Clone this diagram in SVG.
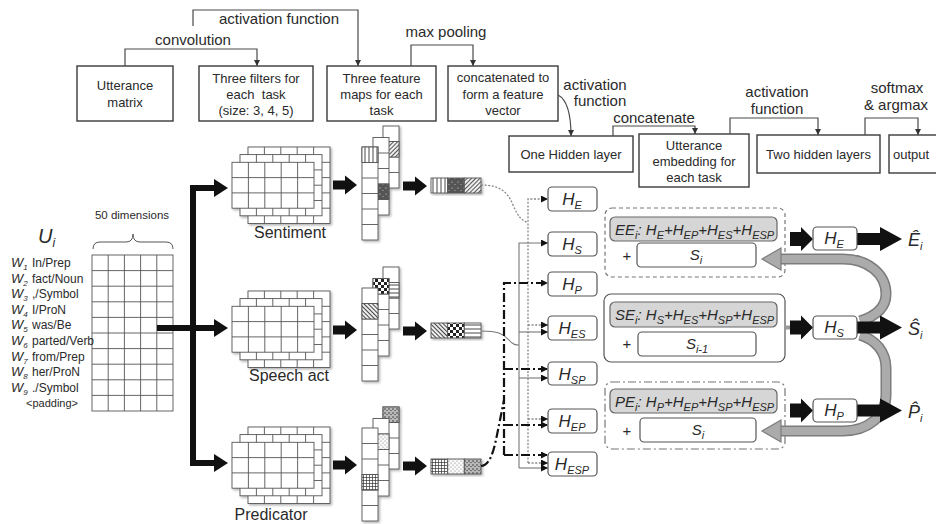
<svg xmlns="http://www.w3.org/2000/svg" width="936" height="524" viewBox="0 0 936 524">
<style>
text{font-family:"Liberation Sans",Arial,sans-serif;fill:#2a2a2a}
.bx{fill:#fff;stroke:#3a3a3a;stroke-width:1.4}
.t13{font-size:13px;text-anchor:middle}
.lab{font-size:15px;text-anchor:middle}
.con{fill:none;stroke:#4a4a4a;stroke-width:1.2}
.gl{fill:none;stroke:#555;stroke-width:0.9}
.cell{fill:#fff;stroke:#555;stroke-width:0.9}
.pc{stroke:#555;stroke-width:0.9}
.hb{fill:#fff;stroke:#555;stroke-width:1.2}
.it{font-style:italic}
.wl{font-size:12px}
.hl{font-size:17px;font-style:italic;text-anchor:middle}
.sb{font-size:11px}
.f15{font-size:15px}
.dot{fill:none;stroke:#888;stroke-width:1.3;stroke-dasharray:2 1.6}
.sol{fill:none;stroke:#777;stroke-width:1.1}
.dd{fill:none;stroke:#111;stroke-width:2.2;stroke-dasharray:9 3 2 3}
.inner{fill:#d6d6d6;stroke:#666;stroke-width:1.2}
.band{fill:none;stroke:#7c7c7c;stroke-width:11}
.band2{fill:none;stroke:#ababab;stroke-width:8}
.thick{fill:none;stroke:#111;stroke-width:6}
.blk{fill:#111}
.cap{font-size:16px;text-anchor:middle}
</style>
<defs>
<marker id="ma" viewBox="0 0 8 8" refX="8" refY="4" markerWidth="6" markerHeight="6" orient="auto" markerUnits="userSpaceOnUse"><path d="M0 0L8 4L0 8z" fill="#333"/></marker>
<marker id="mh" viewBox="0 0 8 8" refX="8" refY="4" markerWidth="7" markerHeight="7" orient="auto" markerUnits="userSpaceOnUse"><path d="M0 0L8 4L0 8z" fill="#111"/></marker>
<filter id="sh" x="-10%" y="-10%" width="130%" height="130%"><feDropShadow dx="1.5" dy="1.5" stdDeviation="1.2" flood-color="#000" flood-opacity="0.3"/></filter>
<pattern id="pV" width="4" height="4" patternUnits="userSpaceOnUse"><rect width="4" height="4" fill="#fff"/><path d="M1 0V4" stroke="#333" stroke-width="0.9"/></pattern>
<pattern id="pH" width="4" height="4" patternUnits="userSpaceOnUse"><rect width="4" height="4" fill="#fff"/><path d="M0 1H4" stroke="#333" stroke-width="0.9"/></pattern>
<pattern id="pD1" width="3" height="3" patternUnits="userSpaceOnUse" patternTransform="rotate(45)"><rect width="3" height="3" fill="#eee"/><path d="M0.5 0V3" stroke="#555" stroke-width="1"/></pattern>
<pattern id="pD2" width="3" height="3" patternUnits="userSpaceOnUse" patternTransform="rotate(-45)"><rect width="3" height="3" fill="#eee"/><path d="M0.5 0V3" stroke="#444" stroke-width="1"/></pattern>
<pattern id="pDark" width="6" height="6" patternUnits="userSpaceOnUse"><rect width="6" height="6" fill="#555"/><circle cx="2" cy="2" r="0.6" fill="#ddd"/><circle cx="5" cy="4.5" r="0.5" fill="#ccc"/></pattern>
<pattern id="pChk" width="6" height="6" patternUnits="userSpaceOnUse"><rect width="6" height="6" fill="#fff"/><rect width="3" height="3" fill="#222"/><rect x="3" y="3" width="3" height="3" fill="#222"/></pattern>
<pattern id="pGrid" width="3" height="3" patternUnits="userSpaceOnUse"><rect width="3" height="3" fill="#fff"/><path d="M0 0.5H3M0.5 0V3" stroke="#333" stroke-width="0.7"/></pattern>
<pattern id="pLt" width="4" height="4" patternUnits="userSpaceOnUse"><rect width="4" height="4" fill="#fafafa"/><circle cx="1" cy="1" r="0.5" fill="#666"/><circle cx="3" cy="3" r="0.5" fill="#666"/></pattern>
<pattern id="pSpk" width="4" height="4" patternUnits="userSpaceOnUse"><rect width="4" height="4" fill="#bbb"/><circle cx="1" cy="1" r="0.8" fill="#333"/><circle cx="3" cy="2.6" r="0.7" fill="#333"/></pattern>
<g id="f3"><rect width="82" height="45.9" class="cell"/><path class="gl" d="M16.4 0V45.9M32.8 0V45.9M49.2 0V45.9M65.6 0V45.9M0 15.3H82M0 30.6H82"/></g>
<g id="f4"><rect width="82" height="61.2" class="cell"/><path class="gl" d="M16.4 0V61.2M32.8 0V61.2M49.2 0V61.2M65.6 0V61.2M0 15.3H82M0 30.6H82M0 45.9H82"/></g>
<g id="f5"><rect width="82" height="76.5" class="cell"/><path class="gl" d="M16.4 0V76.5M32.8 0V76.5M49.2 0V76.5M65.6 0V76.5M0 15.3H82M0 30.6H82M0 45.9H82M0 61.2H82"/></g>
<g id="c4"><rect width="16" height="62" class="cell"/><path class="gl" d="M0 15.5H16M0 31H16M0 46.5H16"/></g>
<g id="c5"><rect width="16" height="77.5" class="cell"/><path class="gl" d="M0 15.5H16M0 31H16M0 46.5H16M0 62H16"/></g>
<g id="c6"><rect width="16" height="93" class="cell"/><path class="gl" d="M0 15.5H16M0 31H16M0 46.5H16M0 62H16M0 77.5H16"/></g>
<path id="ba" d="M0 -4.5H12V-9.5L24 0L12 9.5V4.5H0Z"/>
<path id="bb" d="M0 -7H11V-12L23 0L11 12V7H0Z"/>
<path id="bo" d="M0 -6H23V-12L45 0L23 12V6H0Z"/>
</defs>
<rect width="936" height="524" fill="#fff"/>

<!-- top pipeline boxes -->
<g id="box-utterance-matrix"><rect class="bx" x="77" y="66" width="96" height="55"/><text class="t13" x="125" y="90">Utterance</text><text class="t13" x="125" y="107">matrix</text></g>
<g id="box-three-filters"><rect class="bx" x="199" y="66" width="114" height="55"/><text class="t13" x="256" y="83">Three filters for</text><text class="t13" x="256" y="99" xml:space="preserve">each  task</text><text class="t13" x="256" y="115">(size: 3, 4, 5)</text></g>
<g id="box-feature-maps"><rect class="bx" x="327" y="66" width="109" height="55"/><text class="t13" x="381.5" y="83">Three feature</text><text class="t13" x="381.5" y="99">maps for each</text><text class="t13" x="381.5" y="115">task</text></g>
<g id="box-concat"><rect class="bx" x="448" y="66" width="110" height="55"/><text class="t13" x="503" y="82">concatenated to</text><text class="t13" x="503" y="99">form a feature</text><text class="t13" x="503" y="115">vector</text></g>
<g id="box-one-hidden"><rect class="bx" x="509" y="136" width="124" height="36"/><text class="t13" x="571" y="159">One Hidden layer</text></g>
<g id="box-utt-embedding"><rect class="bx" x="639" y="134" width="110" height="53"/><text class="t13" x="694" y="150">Utterance</text><text class="t13" x="694" y="166">embedding for</text><text class="t13" x="694" y="182">each task</text></g>
<g id="box-two-hidden"><rect class="bx" x="757" y="135" width="123" height="38"/><text class="t13" x="818.5" y="159">Two hidden layers</text></g>
<g id="box-output"><rect class="bx" x="889" y="135" width="60" height="38"/><text x="893" y="159" font-size="13">output</text></g>

<!-- step labels -->
<g id="labels">
<text class="lab" x="193" y="45">convolution</text>
<text class="lab" x="279" y="24">activation function</text>
<text class="lab" x="446" y="37">max pooling</text>
<text class="lab" x="595" y="90">activation</text>
<text class="lab" x="600" y="106">function</text>
<text class="lab" x="654" y="123">concatenate</text>
<text class="lab" x="777" y="97">activation</text>
<text class="lab" x="777" y="114">function</text>
<text class="lab" x="897" y="93">softmax</text>
<text class="lab" x="896" y="110">&amp; argmax</text>
</g>

<!-- utterance matrix U_i -->
<g id="node-Ui">
<text x="38" y="243" font-size="20" class="it">U<tspan font-size="12" dy="4">i</tspan></text>
<text x="132" y="219" font-size="11.5" text-anchor="middle">50 dimensions</text>
<path d="M93 249Q93 242 100 242H126Q133 242 133 234Q133 242 140 242H166Q173 242 173 249" fill="none" stroke="#555" stroke-width="1"/>
<rect x="92" y="255" width="81" height="156" class="cell"/>
<path class="gl" d="M108.2 255V411M124.4 255V411M140.6 255V411M156.8 255V411M92 270.6H173M92 286.2H173M92 301.8H173M92 317.4H173M92 333H173M92 348.6H173M92 364.2H173M92 379.8H173M92 395.4H173"/>
<text x="11" y="267" class="wl"><tspan class="it" font-size="13">W</tspan><tspan class="it" font-size="8" dy="3">1</tspan><tspan x="32" dy="-3">In/Prep</tspan></text>
<text x="11" y="282.6" class="wl"><tspan class="it" font-size="13">W</tspan><tspan class="it" font-size="8" dy="3">2</tspan><tspan x="32" dy="-3">fact/Noun</tspan></text>
<text x="11" y="298.2" class="wl"><tspan class="it" font-size="13">W</tspan><tspan class="it" font-size="8" dy="3">3</tspan><tspan x="32" dy="-3">,/Symbol</tspan></text>
<text x="11" y="313.8" class="wl"><tspan class="it" font-size="13">W</tspan><tspan class="it" font-size="8" dy="3">4</tspan><tspan x="32" dy="-3">I/ProN</tspan></text>
<text x="11" y="329.4" class="wl"><tspan class="it" font-size="13">W</tspan><tspan class="it" font-size="8" dy="3">5</tspan><tspan x="32" dy="-3">was/Be</tspan></text>
<text x="11" y="345" class="wl"><tspan class="it" font-size="13">W</tspan><tspan class="it" font-size="8" dy="3">6</tspan><tspan x="32" dy="-3">parted/Verb</tspan></text>
<text x="11" y="360.6" class="wl"><tspan class="it" font-size="13">W</tspan><tspan class="it" font-size="8" dy="3">7</tspan><tspan x="32" dy="-3">from/Prep</tspan></text>
<text x="11" y="376.2" class="wl"><tspan class="it" font-size="13">W</tspan><tspan class="it" font-size="8" dy="3">8</tspan><tspan x="32" dy="-3">her/ProN</tspan></text>
<text x="11" y="391.8" class="wl"><tspan class="it" font-size="13">W</tspan><tspan class="it" font-size="8" dy="3">9</tspan><tspan x="32" dy="-3">./Symbol</tspan></text>
<text x="52" y="407" font-size="11" text-anchor="middle">&lt;padding&gt;</text>
</g>

<!-- filters -->
<g id="filters-sentiment" filter="url(#sh)"><use href="#f5" x="248" y="147"/><use href="#f4" x="240" y="154.6"/><use href="#f3" x="232" y="162.3"/></g>
<text class="cap" x="290" y="238">Sentiment</text>
<g id="filters-speech" filter="url(#sh)"><use href="#f5" x="248" y="291"/><use href="#f4" x="240" y="298.6"/><use href="#f3" x="232" y="306.3"/></g>
<text class="cap" x="289" y="381">Speech act</text>
<g id="filters-predicator" filter="url(#sh)"><use href="#f5" x="248" y="427"/><use href="#f4" x="240" y="434.6"/><use href="#f3" x="232" y="442.3"/></g>
<text class="cap" x="271" y="520">Predicator</text>

<!-- feature maps -->
<g id="maps-sentiment" filter="url(#sh)">
<use href="#c4" x="383" y="126"/><rect class="pc" x="383" y="141.5" width="16" height="15.5" fill="url(#pD1)"/>
<use href="#c5" x="373" y="137.5"/><rect class="pc" x="373" y="184" width="16" height="15.5" fill="url(#pDark)"/>
<use href="#c6" x="362" y="147"/><rect class="pc" x="362" y="147" width="16" height="15.5" fill="url(#pV)"/>
</g>
<g id="maps-speech" filter="url(#sh)">
<use href="#c4" x="383" y="267"/><rect class="pc" x="383" y="282.5" width="16" height="15.5" fill="url(#pH)"/>
<use href="#c5" x="373" y="278.5"/><rect class="pc" x="373" y="278.5" width="16" height="15.5" fill="url(#pChk)"/>
<use href="#c6" x="362" y="288"/><rect class="pc" x="362" y="303.5" width="16" height="15.5" fill="url(#pD2)"/>
</g>
<g id="maps-predicator" filter="url(#sh)">
<use href="#c4" x="383" y="407"/><rect class="pc" x="383" y="407" width="16" height="15.5" fill="url(#pSpk)"/>
<use href="#c5" x="373" y="418.5"/><rect class="pc" x="373" y="434" width="16" height="15.5" fill="url(#pLt)"/>
<use href="#c6" x="362" y="428"/><rect class="pc" x="362" y="474.5" width="16" height="15.5" fill="url(#pGrid)"/>
</g>

<!-- feature vectors -->
<g id="vec-sentiment" filter="url(#sh)"><rect class="pc" x="431" y="178" width="16.7" height="15" fill="url(#pV)"/><rect class="pc" x="447.7" y="178" width="16.6" height="15" fill="url(#pDark)"/><rect class="pc" x="464.3" y="178" width="16.7" height="15" fill="url(#pD1)"/></g>
<g id="vec-speech" filter="url(#sh)"><rect class="pc" x="431" y="323" width="16.7" height="15" fill="url(#pD2)"/><rect class="pc" x="447.7" y="323" width="16.6" height="15" fill="url(#pChk)"/><rect class="pc" x="464.3" y="323" width="16.7" height="15" fill="url(#pH)"/></g>
<g id="vec-predicator" filter="url(#sh)"><rect class="pc" x="431" y="459" width="16.7" height="15" fill="url(#pGrid)"/><rect class="pc" x="447.7" y="459" width="16.6" height="15" fill="url(#pLt)"/><rect class="pc" x="464.3" y="459" width="16.7" height="15" fill="url(#pSpk)"/></g>

<!-- connectors -->
<g id="connectors">
<path class="con" d="M125 66V49H257V66" marker-end="url(#ma)"/>
<path class="con" d="M193 26V10H358V66" marker-end="url(#ma)"/>
<path class="con" d="M411 66V45H473V66" marker-end="url(#ma)"/>
<path class="con" d="M558 95C568 100 571 115 571 136" marker-end="url(#ma)"/>
<path class="con" d="M613 136V126H695V134" marker-end="url(#ma)"/>
<path class="con" d="M730 134V118H818V135" marker-end="url(#ma)"/>
<path class="con" d="M865 135V118H918V135" marker-end="url(#ma)"/>

<path class="thick" d="M157 328H216"/>
<path class="thick" d="M216 188H193V463H216"/>
<polygon class="blk" points="214,179 228,188 214,197"/>
<polygon class="blk" points="214,319 228,328 214,337"/>
<polygon class="blk" points="214,454 228,463 214,472"/>

<use href="#ba" x="333" y="185" class="blk"/>
<use href="#ba" x="403" y="186" class="blk"/>
<use href="#ba" x="333" y="330" class="blk"/>
<use href="#ba" x="403" y="331" class="blk"/>
<use href="#ba" x="333" y="465" class="blk"/>
<use href="#ba" x="403" y="466" class="blk"/>

<path class="dot" d="M481 185C500 185 508 192 513 205C518 217 523 222 528 222"/>
<path class="dot" d="M528 463V199H548" marker-end="url(#mh)"/>
<path class="dot" d="M528 325H548" marker-end="url(#mh)"/>
<path class="dot" d="M528 419H548" marker-end="url(#mh)"/>
<path class="dot" d="M528 463H548" marker-end="url(#mh)"/>
<path class="sol" d="M481 331C498 331 504 334 509 340C513 345 516 345 519 345"/>
<path class="sol" d="M519 468V243H548" marker-end="url(#mh)"/>
<path class="sol" d="M519 332H548" marker-end="url(#mh)"/>
<path class="sol" d="M519 378H548" marker-end="url(#mh)"/>
<path class="sol" d="M519 468H548" marker-end="url(#mh)"/>
<path class="dd" d="M481 466C490 466 494 450 497 435C500 420 502 410 504 400"/>
<path class="dd" d="M504 455V283H548" marker-end="url(#mh)"/>
<path class="dd" d="M504 369H548" marker-end="url(#mh)"/>
<path class="dd" d="M504 425H548" marker-end="url(#mh)"/>
<path class="dd" d="M504 455H548" marker-end="url(#mh)"/>
</g>

<!-- H nodes -->
<g id="node-HE"><rect class="hb" x="548" y="187" width="49" height="24" rx="4"/><text class="hl" x="572" y="205">H<tspan class="sb" dy="4">E</tspan></text></g>
<g id="node-HS"><rect class="hb" x="548" y="232" width="49" height="24" rx="4"/><text class="hl" x="572" y="250">H<tspan class="sb" dy="4">S</tspan></text></g>
<g id="node-HP"><rect class="hb" x="548" y="272" width="49" height="24" rx="4"/><text class="hl" x="572" y="290">H<tspan class="sb" dy="4">P</tspan></text></g>
<g id="node-HES"><rect class="hb" x="548" y="316" width="49" height="24" rx="4"/><text class="hl" x="572" y="334">H<tspan class="sb" dy="4">ES</tspan></text></g>
<g id="node-HSP"><rect class="hb" x="548" y="362" width="49" height="23" rx="4"/><text class="hl" x="572" y="380">H<tspan class="sb" dy="4">SP</tspan></text></g>
<g id="node-HEP"><rect class="hb" x="548" y="409" width="49" height="24" rx="4"/><text class="hl" x="572" y="427">H<tspan class="sb" dy="4">EP</tspan></text></g>
<g id="node-HESP"><rect class="hb" x="548" y="452" width="49" height="24" rx="4"/><text class="hl" x="572" y="470">H<tspan class="sb" dy="4">ESP</tspan></text></g>

<!-- EE -->
<g id="node-EE">
<rect x="605" y="208" width="180" height="69" rx="7" fill="#fff" stroke="#777" stroke-width="1.2" stroke-dasharray="4 3"/>
<rect class="inner" x="610" y="217" width="167" height="24" rx="5"/>
<text x="615" y="235" class="it f15">EE<tspan class="sb" dy="4">i</tspan><tspan dy="-4">: H</tspan><tspan class="sb" dy="4">E</tspan><tspan dy="-4">+H</tspan><tspan class="sb" dy="4">EP</tspan><tspan dy="-4">+H</tspan><tspan class="sb" dy="4">ES</tspan><tspan dy="-4">+H</tspan><tspan class="sb" dy="4">ESP</tspan></text>
<text x="627" y="261" class="f15" text-anchor="middle">+</text>
<rect class="hb" x="637" y="243" width="119" height="24" rx="4"/>
<text x="696" y="260" class="it f15" text-anchor="middle">S<tspan class="sb" dy="4">i</tspan></text>
</g>
<!-- SE -->
<g id="node-SE">
<rect x="604" y="294" width="181" height="68" rx="7" fill="#fff" stroke="#555" stroke-width="1.2"/>
<rect class="inner" x="610" y="302" width="167" height="25" rx="5"/>
<text x="615" y="320" class="it f15">SE<tspan class="sb" dy="4">i</tspan><tspan dy="-4">: H</tspan><tspan class="sb" dy="4">S</tspan><tspan dy="-4">+H</tspan><tspan class="sb" dy="4">ES</tspan><tspan dy="-4">+H</tspan><tspan class="sb" dy="4">SP</tspan><tspan dy="-4">+H</tspan><tspan class="sb" dy="4">ESP</tspan></text>
<text x="627" y="349" class="f15" text-anchor="middle">+</text>
<rect class="hb" x="638" y="332" width="118" height="24" rx="4"/>
<text x="697" y="349" class="it f15" text-anchor="middle">S<tspan class="sb" dy="4">i-1</tspan></text>
</g>
<!-- PE -->
<g id="node-PE">
<rect x="605" y="382" width="180" height="67" rx="7" fill="#fff" stroke="#777" stroke-width="1.2" stroke-dasharray="8 3 2 3"/>
<rect class="inner" x="610" y="389" width="167" height="24" rx="5"/>
<text x="615" y="407" class="it f15">PE<tspan class="sb" dy="4">i</tspan><tspan dy="-4">: H</tspan><tspan class="sb" dy="4">P</tspan><tspan dy="-4">+H</tspan><tspan class="sb" dy="4">EP</tspan><tspan dy="-4">+H</tspan><tspan class="sb" dy="4">SP</tspan><tspan dy="-4">+H</tspan><tspan class="sb" dy="4">ESP</tspan></text>
<text x="627" y="436" class="f15" text-anchor="middle">+</text>
<rect class="hb" x="640" y="418" width="116" height="24" rx="4"/>
<text x="698" y="435" class="it f15" text-anchor="middle">S<tspan class="sb" dy="4">i</tspan></text>
</g>

<!-- feedback and output connectors -->
<g id="connectors-right">
<path class="band" d="M779 259H843C868 259 886 274 886 294C886 307 876 316 860 321"/>
<path class="band2" d="M779 259H843C868 259 886 274 886 294C886 307 876 316 860 321"/>
<polygon points="781,248 762,259 781,270" fill="#ababab" stroke="#7c7c7c" stroke-width="1.2"/>
<path class="band" d="M860 335C876 340 886 352 886 368V395C886 416 868 431 843 431H779"/>
<path class="band2" d="M860 335C876 340 886 352 886 368V395C886 416 868 431 843 431H779"/>
<polygon points="781,420 762,431 781,442" fill="#ababab" stroke="#7c7c7c" stroke-width="1.2"/>
<path d="M785 327.5H792" stroke="#999" stroke-width="4"/>
<use href="#bb" x="790" y="239" class="blk"/>
<use href="#bb" x="790" y="327.5" class="blk"/>
<use href="#bb" x="790" y="410.5" class="blk"/>
<use href="#bo" x="857" y="239" class="blk"/>
<use href="#bo" x="857" y="327.5" class="blk"/>
<use href="#bo" x="857" y="410.5" class="blk"/>
</g>

<!-- task-specific hidden layers -->
<g id="node-HE2"><rect class="hb" x="813" y="227" width="44" height="23" rx="4"/><text class="hl" x="834" y="244">H<tspan class="sb" dy="4">E</tspan></text></g>
<g id="node-HS2"><rect class="hb" x="813" y="316" width="44" height="23" rx="4"/><text class="hl" x="834" y="333">H<tspan class="sb" dy="4">S</tspan></text></g>
<g id="node-HP2"><rect class="hb" x="813" y="399" width="44" height="23" rx="4"/><text class="hl" x="834" y="416">H<tspan class="sb" dy="4">P</tspan></text></g>

<!-- outputs -->
<g id="out-E"><text x="908" y="246" font-size="18" class="it">Ê<tspan font-size="11" dy="4">i</tspan></text></g>
<g id="out-S"><text x="908" y="335" font-size="18" class="it">Ŝ<tspan font-size="11" dy="4">i</tspan></text></g>
<g id="out-P"><text x="908" y="418" font-size="18" class="it">P̂<tspan font-size="11" dy="4">i</tspan></text></g>
</svg>
